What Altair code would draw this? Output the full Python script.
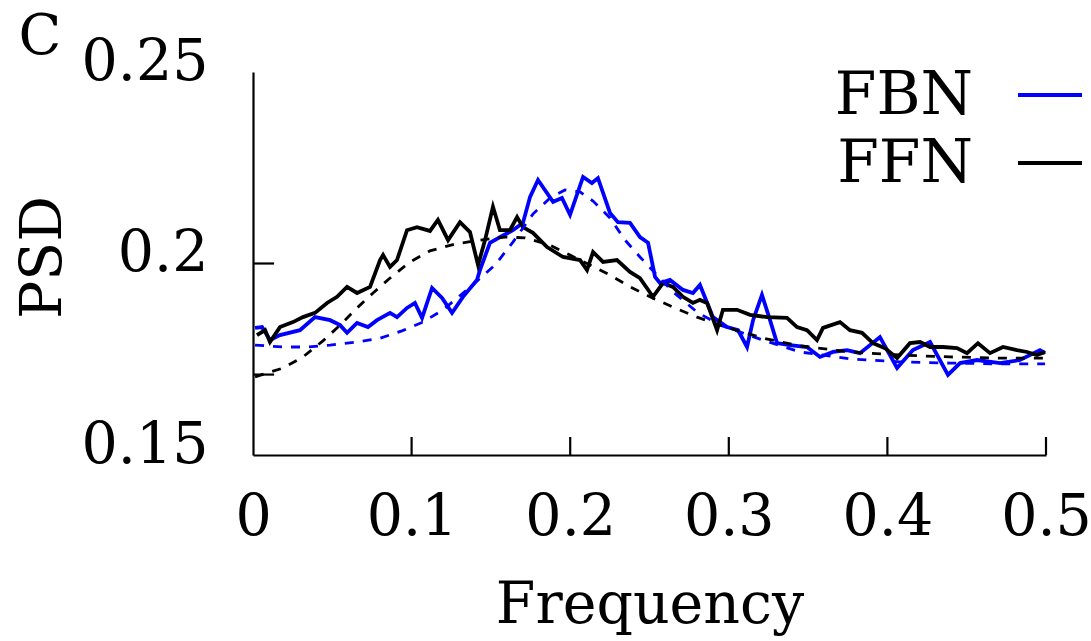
import altair as alt
import pandas as pd

# ---- data ----
fbn_freq = [0.0013, 0.0057, 0.0107, 0.0170, 0.0296, 0.0391, 0.0486, 0.0549, 0.0593, 0.0656,
            0.0725, 0.0782, 0.0864, 0.0908, 0.0971, 0.1021, 0.1066, 0.1129, 0.1192, 0.1255,
            0.1324, 0.1412, 0.1431, 0.1494, 0.1557, 0.1639, 0.1702, 0.1747, 0.1797, 0.1892,
            0.1948, 0.1999, 0.2081, 0.2137, 0.2175, 0.2251, 0.2301, 0.2377, 0.2440, 0.2491,
            0.2535, 0.2566, 0.2629, 0.2711, 0.2774, 0.2818, 0.2900, 0.2989, 0.3058, 0.3115,
            0.3153, 0.3209, 0.3260, 0.3304, 0.3386, 0.3493, 0.3575, 0.3657, 0.3745, 0.3827,
            0.3953, 0.4061, 0.4161, 0.4269, 0.4382, 0.4458, 0.4565, 0.4710, 0.4836, 0.4962,
            0.4994]
fbn_psd = [0.1832, 0.1834, 0.1800, 0.1813, 0.1826, 0.1860, 0.1852, 0.1839, 0.1819, 0.1845,
           0.1834, 0.1852, 0.1871, 0.1860, 0.1884, 0.1897, 0.1858, 0.1936, 0.1910, 0.1871,
           0.1913, 0.1957, 0.1983, 0.2054, 0.2069, 0.2087, 0.2106, 0.2174, 0.2218, 0.2161,
           0.2171, 0.2127, 0.2226, 0.2210, 0.2223, 0.2132, 0.2108, 0.2106, 0.2069, 0.2054,
           0.1965, 0.1949, 0.1957, 0.1931, 0.1923, 0.1944, 0.1860, 0.1834, 0.1826, 0.1782,
           0.1852, 0.1918, 0.1852, 0.1792, 0.1787, 0.1782, 0.1756, 0.1769, 0.1774, 0.1766,
           0.1808, 0.1727, 0.1774, 0.1795, 0.1709, 0.1740, 0.1748, 0.1740, 0.1748, 0.1774,
           0.1766]

ffn_freq = [0.0025, 0.0076, 0.0107, 0.0170, 0.0252, 0.0315, 0.0391, 0.0467, 0.0530, 0.0593,
            0.0656, 0.0738, 0.0801, 0.0820, 0.0864, 0.0908, 0.0971, 0.1034, 0.1116, 0.1166,
            0.1230, 0.1305, 0.1368, 0.1419, 0.1463, 0.1513, 0.1557, 0.1620, 0.1665, 0.1702,
            0.1765, 0.1854, 0.1955, 0.2062, 0.2106, 0.2144, 0.2207, 0.2295, 0.2377, 0.2440,
            0.2522, 0.2585, 0.2648, 0.2711, 0.2774, 0.2818, 0.2863, 0.2926, 0.2963, 0.3052,
            0.3134, 0.3241, 0.3367, 0.3430, 0.3493, 0.3556, 0.3594, 0.3701, 0.3764, 0.3840,
            0.3909, 0.3985, 0.4061, 0.4142, 0.4206, 0.4269, 0.4351, 0.4439, 0.4502, 0.4571,
            0.4647, 0.4729, 0.4817, 0.4880, 0.4943, 0.4994]
ffn_psd = [0.1813, 0.1826, 0.1795, 0.1834, 0.1847, 0.1860, 0.1871, 0.1897, 0.1913, 0.1939,
           0.1923, 0.1939, 0.2009, 0.2022, 0.1991, 0.2009, 0.2087, 0.2095, 0.2085, 0.2114,
           0.2061, 0.2108, 0.2082, 0.1996, 0.2061, 0.2148, 0.2087, 0.2087, 0.2121, 0.2095,
           0.2080, 0.2043, 0.2017, 0.2009, 0.1983, 0.2030, 0.2004, 0.2009, 0.1978, 0.1962,
           0.1913, 0.1949, 0.1939, 0.1913, 0.1897, 0.1905, 0.1897, 0.1826, 0.1879, 0.1879,
           0.1866, 0.1860, 0.1858, 0.1834, 0.1826, 0.1800, 0.1832, 0.1847, 0.1826, 0.1819,
           0.1792, 0.1779, 0.1753, 0.1792, 0.1795, 0.1782, 0.1782, 0.1779, 0.1766, 0.1792,
           0.1766, 0.1782, 0.1774, 0.1769, 0.1761, 0.1769]

fbn_fit_freq = [0.0013, 0.0189, 0.0340, 0.0486, 0.0656, 0.0801, 0.0939, 0.1072, 0.1198, 0.1349,
                0.1526, 0.1639, 0.1765, 0.1873, 0.1967, 0.2062, 0.2144, 0.2251, 0.2346, 0.2440,
                0.2547, 0.2648, 0.2800, 0.2945, 0.3216, 0.3449, 0.3764, 0.4079, 0.4395, 0.4710,
                0.4994]
fbn_fit_psd = [0.1787, 0.1782, 0.1782, 0.1787, 0.1795, 0.1805, 0.1824, 0.1847, 0.1879, 0.1931,
               0.1996, 0.2056, 0.2129, 0.2171, 0.2192, 0.2187, 0.2163, 0.2119, 0.2061, 0.2017,
               0.1970, 0.1926, 0.1873, 0.1839, 0.1800, 0.1769, 0.1751, 0.1743, 0.1740, 0.1738,
               0.1738]

ffn_fit_freq = [0.0013, 0.0189, 0.0315, 0.0441, 0.0549, 0.0656, 0.0757, 0.0864, 0.0990, 0.1116,
                0.1274, 0.1431, 0.1589, 0.1715, 0.1873, 0.1999, 0.2125, 0.2251, 0.2377, 0.2503,
                0.2648, 0.2800, 0.2945, 0.3216, 0.3449, 0.3764, 0.4079, 0.4395, 0.4710, 0.4994]
ffn_fit_psd = [0.1704, 0.1727, 0.1756, 0.1798, 0.1839, 0.1884, 0.1923, 0.1962, 0.2004, 0.2033,
               0.2051, 0.2061, 0.2069, 0.2067, 0.2048, 0.2022, 0.1996, 0.1970, 0.1939, 0.1913,
               0.1886, 0.1860, 0.1839, 0.1805, 0.1785, 0.1769, 0.1761, 0.1756, 0.1753, 0.1753]

x_ticks = [0, 0.1, 0.2, 0.3, 0.4, 0.5]
x_inner_ticks = [0.1, 0.2, 0.3, 0.4, 0.5]
y_ticks = [0.15, 0.2, 0.25]
y_inner_ticks = [0.171, 0.2]
series_names = ["FBN", "FFN"]
series_colors = ["#0000ff", "#000000"]
panel_label = "C"

FONT = "DejaVu Serif"
FS = 57
X_DOMAIN = [0, 0.5]
Y_DOMAIN = [0.15, 0.25]


def frame(freq, psd, name):
    return pd.DataFrame({"f": freq, "psd": psd, "series": name, "i": range(len(freq))})


solid = pd.concat([frame(fbn_freq, fbn_psd, "FBN"), frame(ffn_freq, ffn_psd, "FFN")])
fits = pd.concat([frame(fbn_fit_freq, fbn_fit_psd, "FBN"), frame(ffn_fit_freq, ffn_fit_psd, "FFN")])

xs = alt.Scale(domain=X_DOMAIN, nice=False, zero=False)
ys = alt.Scale(domain=Y_DOMAIN, nice=False, zero=False)
cs = alt.Scale(domain=series_names, range=series_colors)

x_axis = alt.Axis(values=x_ticks, labelExpr="datum.value == 0 ? '0' : format(datum.value, '.1f')",
                  grid=False, ticks=False, tickSize=0, domainColor="black", domainWidth=2.2,
                  labelFont=FONT, labelFontSize=FS, labelColor="black", labelPadding=34,
                  labelFlush=False, labelOverlap=False,
                  title="Frequency", titleFont=FONT, titleFontSize=FS, titleFontWeight="normal",
                  titleColor="black", titleY=150, titleBaseline="middle")
y_axis = alt.Axis(values=y_ticks, labelExpr="datum.value == 0.2 ? '0.2' : format(datum.value, '.2f')",
                  grid=False, ticks=False, tickSize=0, domainColor="black", domainWidth=2.2,
                  labelFont=FONT, labelFontSize=FS, labelColor="black", labelPadding=45,
                  labelOffset=-10, labelFlush=False, labelOverlap=False,
                  title="PSD", titleFont=FONT, titleFontSize=FS, titleFontWeight="normal",
                  titleColor="black", titleAngle=270, titleX=-210, titleY=185,
                  titleBaseline="middle", titleAlign="center")

X = lambda field: alt.X(field, scale=xs, axis=x_axis)
Y = lambda field: alt.Y(field, scale=ys, axis=y_axis)

lines = alt.Chart(solid).mark_line(strokeWidth=3.8).encode(
    x=X("f:Q"), y=Y("psd:Q"),
    color=alt.Color("series:N", scale=cs, legend=None),
    order="i:Q",
)

fit_lines = alt.Chart(fits).mark_line(strokeWidth=2.8, strokeDash=[9, 9]).encode(
    x=X("f:Q"), y=Y("psd:Q"),
    color=alt.Color("series:N", scale=cs, legend=None),
    order="i:Q",
)

# inward ticks (gnuplot style)
xt = pd.DataFrame({"f": x_inner_ticks, "y0": [Y_DOMAIN[0]] * len(x_inner_ticks),
                   "y1": [Y_DOMAIN[0] + 0.0047] * len(x_inner_ticks)})
x_tick_marks = alt.Chart(xt).mark_rule(color="black", strokeWidth=2.2).encode(
    x=X("f:Q"), y=Y("y0:Q"), y2="y1:Q",
)
yt = pd.DataFrame({"p": y_inner_ticks, "x0": [X_DOMAIN[0]] * len(y_inner_ticks),
                   "x1": [X_DOMAIN[0] + 0.0133] * len(y_inner_ticks)})
y_tick_marks = alt.Chart(yt).mark_rule(color="black", strokeWidth=2.2).encode(
    y=Y("p:Q"), x=X("x0:Q"), x2="x1:Q",
)

one = pd.DataFrame({"k": [0]})
panel = alt.Chart(one).mark_text(text=panel_label, font=FONT, fontSize=56, color="black",
                                 align="center", baseline="middle").encode(
    x=alt.value(-213), y=alt.value(-35))

legend_layers = []
for name, col, ty in zip(series_names, series_colors, [24, 92]):
    legend_layers.append(
        alt.Chart(one).mark_text(text=name, font=FONT, fontSize=60, color="black",
                                 align="right", baseline="middle").encode(
            x=alt.value(720), y=alt.value(ty)))
    legend_layers.append(
        alt.Chart(one).mark_rule(color=col, strokeWidth=3.8).encode(
            x=alt.value(765), x2=alt.value(829), y=alt.value(ty - 1)))

chart = alt.layer(lines, fit_lines, x_tick_marks, y_tick_marks, panel, *legend_layers).properties(
    width=793, height=383,
    autosize=alt.AutoSizeParams(type="none"),
    padding={"left": 253, "top": 72, "right": 45, "bottom": 186},
    background="white",
).configure_view(stroke=None).configure_axis(labelFont=FONT, titleFont=FONT)

chart.save("out.html", embed_options={"renderer": "svg", "actions": False})
